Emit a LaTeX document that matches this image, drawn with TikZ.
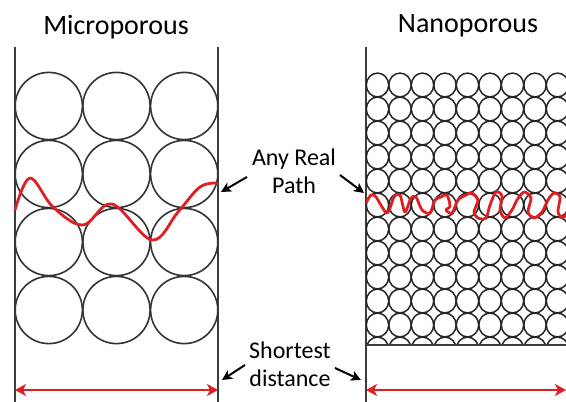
\documentclass[tikz,border=0pt]{standalone}
\usepackage{fontspec}
\setmainfont{Carlito}
\usetikzlibrary{arrows.meta}

\definecolor{pathred}{RGB}{222,32,36}
\definecolor{wallgray}{RGB}{60,60,60}

\newcommand*{\ytop}{47}
\newcommand*{\ybot}{402}
\newcommand*{\microL}{15}
\newcommand*{\microR}{218}
\newcommand*{\nanoL}{366}

\begin{document}
\begin{tikzpicture}
[
	x=1pt,y=-1pt,
	wall/.style={draw=wallgray,line width=1.5pt},
	bead/.style={draw=black!80,line width=1.6pt},
	grain/.style={draw=black!85,line width=1.5pt},
	realpath/.style={draw=pathred,line width=2.8pt,line join=round},
	span/.style={draw=pathred,line width=2.6pt,{Stealth[length=11pt,width=12pt,inset=3pt]}-{Stealth[length=11pt,width=12pt,inset=3pt]}},
	pointer/.style={draw=black,line width=2pt,-{Stealth[length=10pt,width=10pt,inset=2.5pt]}},
	title/.style={font=\fontsize{28}{30}\selectfont},
	label/.style={font=\fontsize{24}{28}\selectfont,align=center}
]

	\useasboundingbox (0,0) rectangle (566,402);

	% titles
	\node[title] (micro) at (116,27) {Microporous};
	\node[title] (nano) at (468,26) {Nanoporous};

	% microporous: walls and beads
	\draw[wall] (\microL,\ytop) -- (\microL,\ybot);
	\draw[wall] (\microR,\ytop) -- (\microR,\ybot);
	\foreach \i in {0,1,2}
		\foreach \j in {0,...,3}
			\draw[bead] ({48.8+67.7*\i},{106+68*\j}) circle[radius=33.6];

	% nanoporous: wall and grains
	\draw[wall] (\nanoL,\ytop) -- (\nanoL,\ybot);
	\begin{scope}
		\clip (\nanoL,40) rectangle (566,345);
		\foreach \i in {0,...,8}
			\foreach \j in {0,...,11}
				\draw[grain] ({377.5+22.5*\i},{85+24*\j}) ellipse[x radius=11.2,y radius=11.9];
	\end{scope}
	\draw[wall] (\nanoL,345) -- (566,345);

	% real paths
	\draw[realpath] plot[smooth,tension=0.6] coordinates {(15,210) (30,178) (53,207) (83,225) (112,204) (152,240) (178,212) (200,187) (218,183)};
	\begin{scope}
		\clip (\nanoL,150) rectangle (566,250);
		\draw[realpath] plot[smooth,tension=0.5] coordinates {(366,203) (371,195) (376,197) (387,213) (394,197) (400,195) (405,212) (411,198) (416,197) (422,210) (430,213) (435,200) (441,197) (447,195) (450,206) (446,210) (452,213) (458,200) (466,195) (472,193) (478,200) (474,212) (478,218) (486,218) (490,205) (496,192) (502,196) (500,210) (505,218) (512,210) (517,200) (524,192) (531,198) (528,212) (534,218) (542,212) (548,200) (554,193) (560,197) (558,212) (563,218) (568,210)};
	\end{scope}

	% shortest distance
	\coordinate (microA) at (\microL,390);
	\coordinate (microB) at (\microR,390);
	\coordinate (nanoA) at (\nanoL,390);
	\coordinate (nanoB) at (566,390);
	\draw[span] (microA) -- (microB);
	\draw[span] (nanoA) -- (nanoB);

	% labels and pointers
	\node[label] (real) at (294,171) {Any Real\\Path};
	\node[label] (short) at (290,364) {Shortest\\distance};

	\coordinate (realL) at (247,177);
	\coordinate (realLtip) at (221,192);
	\coordinate (realR) at (340,175);
	\coordinate (realRtip) at (364,193);
	\draw[pointer] (realL) -- (realLtip);
	\draw[pointer] (realR) -- (realRtip);

	\coordinate (shortL) at (245,365);
	\coordinate (shortLtip) at (222,380);
	\coordinate (shortR) at (335,368);
	\coordinate (shortRtip) at (361,380);
	\draw[pointer] (shortL) -- (shortLtip);
	\draw[pointer] (shortR) -- (shortRtip);

\end{tikzpicture}
\end{document}
